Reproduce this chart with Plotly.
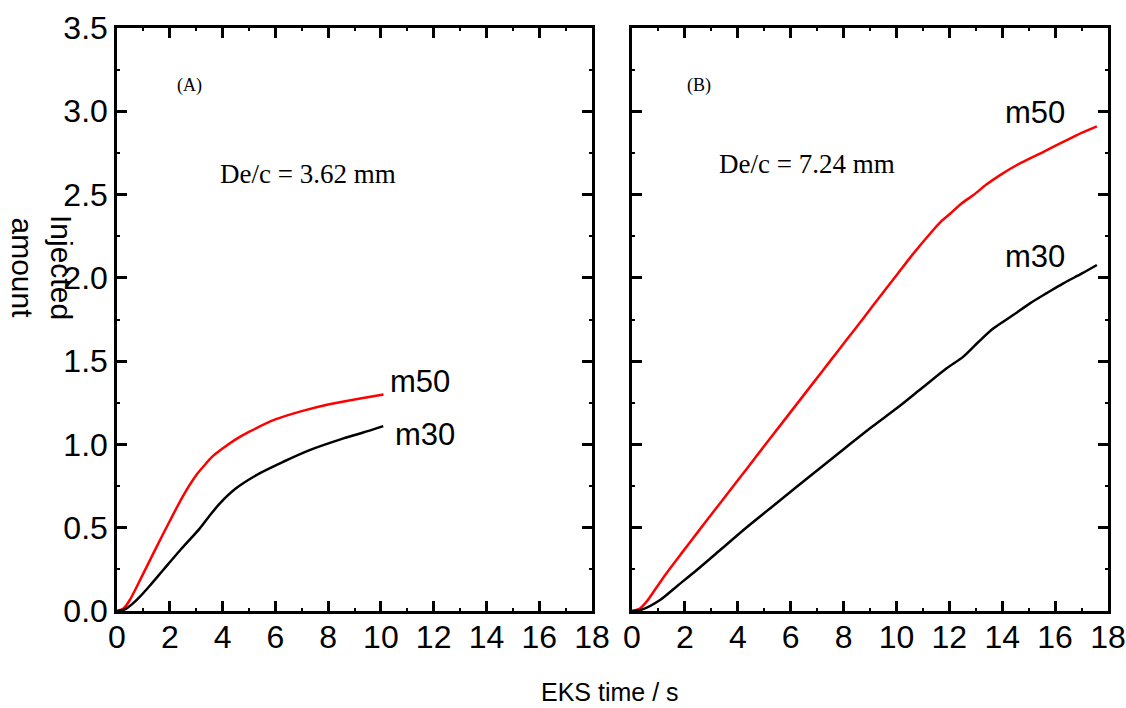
import plotly.graph_objects as go

# ---- data ----
a_m50_x = [0.0, 0.25, 0.5, 1.0, 1.5, 2.0, 2.5, 3.0, 3.3, 3.6, 4.0, 4.5, 5.0, 6.0, 7.0, 8.0, 9.0, 10.1]
a_m50_y = [0.0, 0.015, 0.07, 0.226, 0.385, 0.54, 0.69, 0.815, 0.872, 0.925, 0.975, 1.03, 1.075, 1.15, 1.20, 1.24, 1.27, 1.30]
a_m30_x = [0.0, 0.3, 0.6, 0.87, 1.25, 1.75, 2.4, 3.14, 3.5, 3.9, 4.5, 5.4, 6.3, 7.3, 8.5, 9.3, 10.09]
a_m30_y = [0.0, 0.01, 0.045, 0.086, 0.153, 0.246, 0.366, 0.496, 0.57, 0.646, 0.735, 0.826, 0.896, 0.966, 1.032, 1.07, 1.11]

b_m50_x = [0.0, 0.3, 0.55, 0.9, 1.31, 1.9, 2.45, 3.1, 3.71, 4.35, 4.97, 5.6, 6.23, 6.86, 7.49, 8.1, 8.75,
           9.4, 10.01, 10.6, 11.27, 11.7, 12.03, 12.45, 12.91, 13.4, 13.92, 14.7, 15.56, 16.44, 17.0, 17.58]
b_m50_y = [0.0, 0.015, 0.056, 0.135, 0.228, 0.352, 0.466, 0.60, 0.725, 0.856, 0.984, 1.113, 1.242, 1.371, 1.50,
           1.625, 1.758, 1.892, 2.017, 2.138, 2.265, 2.34, 2.385, 2.445, 2.497, 2.56, 2.617, 2.69, 2.757, 2.827,
           2.87, 2.91]
b_m30_x = [0.0, 0.4, 1.06, 1.7, 2.45, 3.4, 4.34, 5.3, 6.23, 7.2, 8.12, 9.1, 10.01, 11.0, 11.9, 12.53, 13.1,
           13.67, 14.4, 15.05, 15.7, 16.31, 17.0, 17.58]
b_m30_y = [0.0, 0.01, 0.066, 0.149, 0.246, 0.375, 0.503, 0.626, 0.746, 0.869, 0.986, 1.109, 1.217, 1.343, 1.457,
           1.527, 1.615, 1.697, 1.775, 1.847, 1.91, 1.967, 2.025, 2.077]

x_ticks = [0, 2, 4, 6, 8, 10, 12, 14, 16, 18]
y_ticks = [0.0, 0.5, 1.0, 1.5, 2.0, 2.5, 3.0, 3.5]
y_tick_text = ["0.0", "0.5", "1.0", "1.5", "2.0", "2.5", "3.0", "3.5"]

RED = "#ff0000"
BLACK = "#000000"
SANS = "Liberation Sans, Arial, sans-serif"
SERIF = "Liberation Serif, Times New Roman, serif"

fig = go.Figure()
line_kw = dict(width=2.5, shape="spline", smoothing=0.8)
fig.add_trace(go.Scatter(x=a_m50_x, y=a_m50_y, mode="lines", line=dict(color=RED, **line_kw),
                         xaxis="x", yaxis="y", showlegend=False))
fig.add_trace(go.Scatter(x=a_m30_x, y=a_m30_y, mode="lines", line=dict(color=BLACK, **line_kw),
                         xaxis="x", yaxis="y", showlegend=False))
fig.add_trace(go.Scatter(x=b_m50_x, y=b_m50_y, mode="lines", line=dict(color=RED, **line_kw),
                         xaxis="x2", yaxis="y2", showlegend=False))
fig.add_trace(go.Scatter(x=b_m30_x, y=b_m30_y, mode="lines", line=dict(color=BLACK, **line_kw),
                         xaxis="x2", yaxis="y2", showlegend=False))

W, H = 1126, 708
ML, MR, MT, MB = 117, 18, 28, 97
pw = W - ML - MR
ph = H - MT - MB
left_dom = [0, (592 - ML) / pw]
right_dom = [(632 - ML) / pw, 1]

common_x = dict(range=[0, 18], tickvals=x_ticks, ticks="inside", ticklen=10, tickwidth=2.5,
                tickcolor=BLACK, showline=True, linecolor=BLACK, linewidth=2.5, mirror="ticks",
                showgrid=False, zeroline=False, automargin=False, ticklabelstandoff=-4,
                tickfont=dict(family=SANS, size=32, color=BLACK),
                minor=dict(ticks="inside", ticklen=3, tickwidth=2, tickcolor=BLACK, dtick=1, showgrid=False))
common_y = dict(range=[0, 3.5], tickvals=y_ticks, ticktext=y_tick_text, ticks="inside", ticklen=10,
                tickwidth=2.5, tickcolor=BLACK, showline=True, linecolor=BLACK, linewidth=2.5,
                mirror="ticks", showgrid=False, zeroline=False, automargin=False,
                tickfont=dict(family=SANS, size=32, color=BLACK),
                minor=dict(ticks="inside", ticklen=3, tickwidth=2, tickcolor=BLACK, dtick=0.25, showgrid=False))

fig.update_layout(
    template="none",
    width=W, height=H,
    margin=dict(l=ML, r=MR, t=MT, b=MB, pad=0, autoexpand=False),
    paper_bgcolor="white", plot_bgcolor="white",
    xaxis=dict(domain=left_dom, anchor="y", **common_x),
    yaxis=dict(domain=[0, 1], anchor="x", showticklabels=True, **common_y),
    xaxis2=dict(domain=right_dom, anchor="y2", **common_x),
    yaxis2=dict(domain=[0, 1], anchor="x2", showticklabels=False, **common_y),
)

ann = []
# series labels
ann.append(dict(x=11.5, y=1.38, xref="x", yref="y", text="m50", showarrow=False,
                font=dict(family=SANS, size=31, color=BLACK)))
ann.append(dict(x=11.67, y=1.062, xref="x", yref="y", text="m30", showarrow=False,
                font=dict(family=SANS, size=31, color=BLACK)))
ann.append(dict(x=15.24, y=2.995, xref="x2", yref="y2", text="m50", showarrow=False,
                font=dict(family=SANS, size=31, color=BLACK)))
ann.append(dict(x=15.24, y=2.13, xref="x2", yref="y2", text="m30", showarrow=False,
                font=dict(family=SANS, size=31, color=BLACK)))
# panel labels
ann.append(dict(x=(190 - 117) / 26.4, y=(611 - 85) / 166.6, xref="x", yref="y", text="(A)", showarrow=False,
                font=dict(family=SERIF, size=18, color=BLACK)))
ann.append(dict(x=(699 - 632) / 26.44, y=(611 - 85) / 166.6, xref="x2", yref="y2", text="(B)", showarrow=False,
                font=dict(family=SERIF, size=18, color=BLACK)))
ann.append(dict(x=(308 - 117) / 26.4, y=(611 - 174) / 166.6, xref="x", yref="y", text="De/c = 3.62 mm",
                showarrow=False, font=dict(family=SERIF, size=27, color=BLACK)))
ann.append(dict(x=(807 - 632) / 26.44, y=(611 - 164) / 166.6, xref="x2", yref="y2", text="De/c = 7.24 mm",
                showarrow=False, font=dict(family=SERIF, size=27, color=BLACK)))
# axis titles
ann.append(dict(x=(610 - ML) / pw, y=(611 - 692) / ph, xref="paper", yref="paper", text="EKS time / s",
                showarrow=False, xanchor="center", yanchor="middle",
                font=dict(family=SANS, size=25, color=BLACK)))
ann.append(dict(x=(42 - ML) / pw, y=(611 - 267) / ph, xref="paper", yref="paper", text="Injected<br>amount",
                showarrow=False, textangle=90, xanchor="center", yanchor="middle",
                font=dict(family=SANS, size=30, color=BLACK)))
fig.update_layout(annotations=ann)

fig.write_html("out.html")
